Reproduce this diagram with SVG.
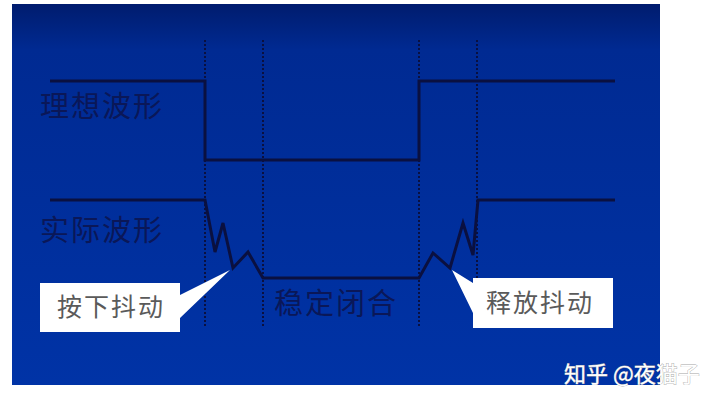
<svg xmlns="http://www.w3.org/2000/svg" width="720" height="405" viewBox="0 0 720 405">
<defs>
<linearGradient id="bg" x1="0" y1="0" x2="0" y2="1">
<stop offset="0" stop-color="#001c6e"/>
<stop offset="0.12" stop-color="#002a92"/>
<stop offset="1" stop-color="#0033a6"/>
</linearGradient>
<style>
.wave{fill:none;stroke:#0a1040;stroke-width:3;stroke-linejoin:miter}
.grid{fill:none;stroke:#0a1040;stroke-width:2;stroke-dasharray:2 2}
.lbl{font-family:"Noto Sans CJK SC","Liberation Serif",serif;font-size:29px;fill:#0a1758;letter-spacing:2px}
.call{fill:#ffffff}
.ctext{font-family:"Noto Sans CJK SC","Liberation Serif",serif;font-size:25px;fill:#5a5a5a;letter-spacing:2px}
.wm{font-family:"Noto Sans CJK SC","Liberation Sans",sans-serif;font-size:22px;fill:#ffffff;stroke:#a8a8a8;stroke-width:0.8;paint-order:stroke}
</style>
</defs>
<rect x="0" y="0" width="720" height="405" fill="#ffffff"/>
<rect x="12" y="4" width="648" height="381" fill="url(#bg)"/>
<g id="connectors">
<line class="grid" x1="205" y1="40" x2="205" y2="328"/>
<line class="grid" x1="263" y1="40" x2="263" y2="328"/>
<line class="grid" x1="419" y1="40" x2="419" y2="328"/>
<line class="grid" x1="477" y1="40" x2="477" y2="328"/>
<polyline class="wave" points="50,81 205,81 205,160 419,160 419,81 615,81"/>
<polyline class="wave" points="50,200 205,200 215,252 223,223 233,268 248,252 263,278 419,278 433,253 450,268 463,223 473,255 478,200 615,200"/>
</g>
<g id="label-ideal">
<text class="lbl" x="40" y="117">理想波形</text>
</g>
<g id="label-actual">
<text class="lbl" x="40" y="241">实际波形</text>
</g>
<g id="label-stable">
<text class="lbl" x="274" y="314">稳定闭合</text>
</g>
<g id="callout-press">
<polygon class="call" points="40,283 180,283 180,295 230,270 180,318 180,332 40,332"/>
<text class="ctext" x="57" y="316">按下抖动</text>
</g>
<g id="callout-release">
<polygon class="call" points="473,278 613,278 613,328 473,328 473,313 452,270 473,283"/>
<text class="ctext" x="486" y="312">释放抖动</text>
</g>
<g id="watermark">
<text class="wm" x="564" y="382">知乎 @夜猫子</text>
</g>
</svg>
